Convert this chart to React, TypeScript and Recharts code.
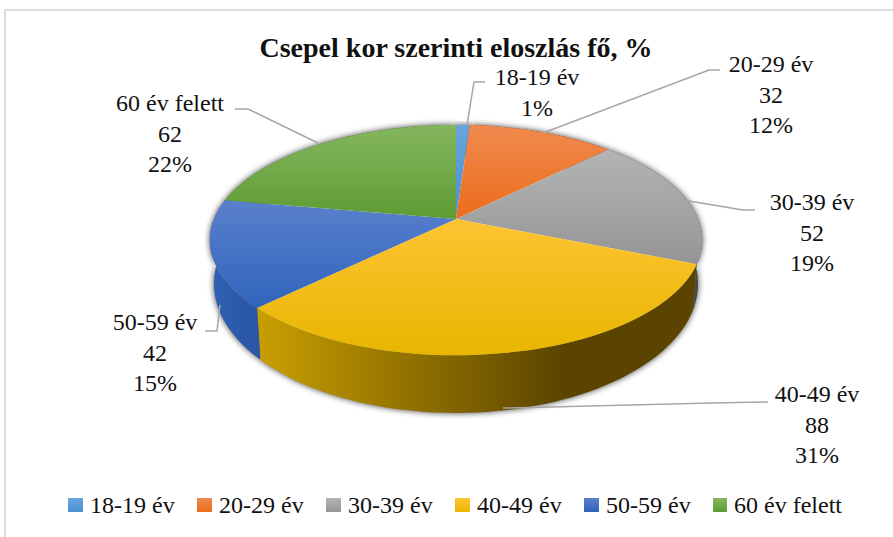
import { Legend, Pie, PieChart } from "recharts";

const categories = ["18-19 év", "20-29 év", "30-39 év", "40-49 év", "50-59 év", "60 év felett"];
const values = [3, 32, 52, 88, 42, 62];
const valueLabels = ["", "32", "52", "88", "42", "62"];
const percentLabels = ["1%", "12%", "19%", "31%", "15%", "22%"];

const topLight = ["#6aa5dc", "#f08a4e", "#b4b4b4", "#fec433", "#5a80cc", "#85b65f"];
const topDark = ["#4a90d0", "#ec6c1b", "#959595", "#e8b600", "#2f64bb", "#5e9c33"];
const wallLeft = ["#2c6aa0", "#a04a10", "#5e5e5e", "#c99f00", "#2f62b4", "#4a7a28"];
const wallRight = ["#1d4a72", "#7a3a0c", "#4a4a4a", "#5a4400", "#2a58a6", "#3c6420"];

// where each data label sits, and its leader line
const labelCenters = [[537, 77], [771, 64], [812, 202], [817, 394], [155, 322], [170, 103]];
const leaderLines = [
  [[485, 82], [474, 82], [467, 125]],
  [[720, 70], [709, 70], [543, 133]],
  [[755, 210], [743, 210], [683, 200]],
  [[768, 402], [712, 403], [503, 408]],
  [[205, 331], [217, 331], [220, 305]],
  [[235, 109], [248, 109], [318, 143]],
];

const WIDTH = 893;
const HEIGHT = 537;
const CX = 456;
const CY = 219;
const RADIUS = 242;
const PERSPECTIVE = 0.183;
const TILT = 0.46;
const WALL_RADIUS = 238;
const WALL_CY = 260;
const WALL_TILT = 0.525;
const FONT = '"Liberation Serif", "Times New Roman", serif';

const data = categories.map((name, i) => ({ name, value: values[i] }));

// pie angle (degrees, recharts convention) to a point on a tilted rim
function rim(angle: number, r: number, cy: number, tilt: number) {
  const t = ((90 - angle) * Math.PI) / 180;
  const u = Math.sin(t);
  const v = Math.cos(t);
  const w = 1 + PERSPECTIVE * v;
  return [CX + (r * u) / w, cy - (r * tilt * v) / w];
}

function arc(start: number, end: number, r: number, cy: number, tilt: number) {
  const pts = [];
  const steps = Math.max(2, Math.ceil(Math.abs(end - start) / 2));
  for (let i = 0; i <= steps; i++) pts.push(rim(start + ((end - start) * i) / steps, r, cy, tilt));
  return pts;
}

const toPath = (pts: number[][]) => pts.map((p, i) => `${i ? "L" : "M"}${p[0].toFixed(1)} ${p[1].toFixed(1)}`).join(" ") + " Z";

function TopSlice(props: any) {
  const pts = [[CX, CY], ...arc(props.startAngle, props.endAngle, RADIUS, CY, TILT)];
  return <path d={toPath(pts)} fill={`url(#top${props.index})`} />;
}

function wallPoints(props: any) {
  const upper = arc(props.startAngle, props.endAngle, RADIUS, CY, TILT);
  const lower = arc(props.startAngle, props.endAngle, WALL_RADIUS, WALL_CY, WALL_TILT);
  return [...upper, ...lower.reverse()];
}

function WallSlice(props: any) {
  return <path d={toPath(wallPoints(props))} fill={`url(#wall${props.index})`} />;
}

function ShadowSlice(props: any) {
  return <path d={toPath(wallPoints(props))} fill="#000" fillOpacity={0.75} filter="url(#pieShadow)" />;
}

function DataLabel(props: any) {
  const i = props.index;
  const [x, y] = labelCenters[i];
  const lines = [categories[i], valueLabels[i], percentLabels[i]].filter(Boolean);
  return (
    <g>
      <polyline points={leaderLines[i].map((p) => p.join(",")).join(" ")} fill="none" stroke="#a6a6a6" strokeWidth={1.5} />
      {lines.map((line, n) => (
        <text key={n} x={x} y={y + n * 30.5} textAnchor="middle" dominantBaseline="central" fontFamily={FONT} fontSize={24} fill="#111">
          {line}
        </text>
      ))}
    </g>
  );
}

function LegendRow() {
  return (
    <div style={{ display: "flex", fontFamily: FONT, fontSize: 24, color: "#111", lineHeight: "30px" }}>
      {categories.map((name, i) => (
        <div key={name} style={{ width: 129, display: "flex", alignItems: "center", whiteSpace: "nowrap" }}>
          <span
            style={{
              width: 15,
              height: 14,
              marginRight: 7,
              background: `linear-gradient(${topLight[i]}, ${topDark[i]})`,
            }}
          />
          {name}
        </div>
      ))}
    </div>
  );
}

export default function App() {
  return (
    <div style={{ position: "absolute", left: 0, top: 0, width: WIDTH, height: HEIGHT, background: "#fff" }}>
      <div
        style={{
          position: "absolute",
          left: 4,
          top: 9,
          right: 0,
          bottom: 0,
          borderLeft: "2px solid #dcdcdc",
          borderTop: "2px solid #dcdcdc",
        }}
      />
      <PieChart width={WIDTH} height={HEIGHT} margin={{ top: 0, right: 0, bottom: 0, left: 0 }}>
        <defs>
          <filter id="pieShadow" x="-10%" y="-10%" width="120%" height="120%">
            <feGaussianBlur stdDeviation="3" />
          </filter>
          {categories.map((name, i) => (
            <linearGradient key={name} id={`top${i}`} x1="0" y1="0" x2="0" y2="1">
              <stop offset="0%" stopColor={topLight[i]} />
              <stop offset="100%" stopColor={topDark[i]} />
            </linearGradient>
          ))}
          {categories.map((name, i) => (
            <linearGradient key={name} id={`wall${i}`} x1="0" y1="0" x2="1" y2="0">
              <stop offset="0%" stopColor={wallLeft[i]} />
              <stop offset="70%" stopColor={wallRight[i]} />
              <stop offset="100%" stopColor={wallRight[i]} />
            </linearGradient>
          ))}
        </defs>
        <text x={456} y={47} textAnchor="middle" dominantBaseline="central" fontFamily={FONT} fontSize={28} fontWeight="bold" fill="#111">
          Csepel kor szerinti eloszlás fő, %
        </text>
        <Pie
          data={data}
          dataKey="value"
          nameKey="name"
          cx={CX}
          cy={CY}
          outerRadius={RADIUS}
          startAngle={90}
          endAngle={-270}
          stroke="none"
          shape={ShadowSlice}
          legendType="none"
          isAnimationActive={false}
        />
        <Pie
          data={data}
          dataKey="value"
          nameKey="name"
          cx={CX}
          cy={CY}
          outerRadius={RADIUS}
          startAngle={90}
          endAngle={-270}
          stroke="none"
          shape={WallSlice}
          legendType="none"
          isAnimationActive={false}
        />
        <Pie
          data={data}
          dataKey="value"
          nameKey="name"
          cx={CX}
          cy={CY}
          outerRadius={RADIUS}
          startAngle={90}
          endAngle={-270}
          stroke="none"
          shape={TopSlice}
          label={DataLabel}
          labelLine={false}
          isAnimationActive={false}
        />
        <Legend content={LegendRow} wrapperStyle={{ left: 68, top: 490, width: 800 }} />
      </PieChart>
    </div>
  );
}
